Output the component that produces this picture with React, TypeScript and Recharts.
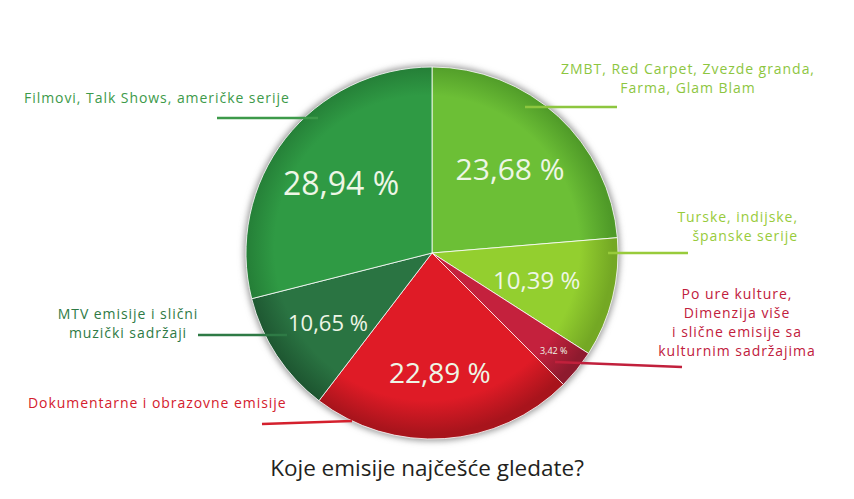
import React from 'react';
import { PieChart, Pie, Cell } from 'recharts';

// Slices clockwise from 12 o'clock
const categories = [
  ['ZMBT, Red Carpet, Zvezde granda,', 'Farma, Glam Blam'],
  ['Turske, indijske,', 'španske serije'],
  ['Po ure kulture,', 'Dimenzija više', 'i slične emisije sa', 'kulturnim sadržajima'],
  ['Dokumentarne i obrazovne emisije'],
  ['MTV emisije i slični', 'muzički sadržaji'],
  ['Filmovi, Talk Shows, američke serije'],
];
const shares = [23.68, 10.39, 3.42, 22.89, 10.65, 28.94];
const shareLabels = ['23,68 %', '10,39 %', '3,42 %', '22,89 %', '10,65 %', '28,94 %'];
const title = 'Koje emisije najčešće gledate?';

const sliceColors = ['#6cbf36', '#93cf2f', '#c4213d', '#df1b26', '#2a7442', '#2f9a44'];
const edgeColors = ['#4f9a28', '#74a824', '#8e1a2e', '#a8141c', '#1d5530', '#237a35'];
const textColors = ['#8dc63f', '#98cb3b', '#c1203c', '#d4202d', '#2e7a45', '#3d9a4a'];

const W = 854;
const H = 499;
const CX = 427;
const CY = 248;
const R = 186;
const FONT = '"Open Sans", "DejaVu Sans", sans-serif';

// label placement relative to the pie centre
const pctLayout = [
  { r: 0.62, size: 30 },
  { r: 0.58, size: 24 },
  { r: 0.84, size: 9 },
  { r: 0.64, size: 28 },
  { r: 0.67, size: 22 },
  { r: 0.62, size: 32 },
];
const outerLayout = [
  { tx: 256, ty: -179, anchor: 'middle', lh: 19, x1: 93, y1: -146, x2: 185, y2: -146 },
  { tx: 366, ty: -31, anchor: 'end', lh: 19, x1: 176, y1: 0, x2: 256, y2: 0 },
  { tx: 305, ty: 46, anchor: 'middle', lh: 19, x1: 123, y1: 109, x2: 250, y2: 114 },
  { tx: -404, ty: 155, anchor: 'start', lh: 19, x1: -170, y1: 171, x2: -80, y2: 168 },
  { tx: -304, ty: 66, anchor: 'middle', lh: 19, x1: -234, y1: 82, x2: -145, y2: 82 },
  { tx: -408, ty: -150, anchor: 'start', lh: 19, x1: -215, y1: -135, x2: -114, y2: -135 },
];

const data = shares.map((value, i) => ({ name: categories[i].join(' '), value }));
const shadowData = [{ name: 'shadow', value: 1 }];

const RADIAN = Math.PI / 180;

const renderLabel = (props: any) => {
  const { cx, cy, midAngle, outerRadius, index } = props;
  const p = pctLayout[index];
  const o = outerLayout[index];
  const r = outerRadius * p.r;
  const x = cx + r * Math.cos(-midAngle * RADIAN);
  const y = cy + r * Math.sin(-midAngle * RADIAN);
  return (
    <g>
      <line
        x1={cx + o.x1}
        y1={cy + o.y1}
        x2={cx + o.x2}
        y2={cy + o.y2}
        stroke={textColors[index]}
        strokeWidth={2.5}
      />
      <text
        x={x}
        y={y}
        fill="#eef6e6"
        fontSize={p.size}
        fontFamily={FONT}
        textAnchor="middle"
        dominantBaseline="central"
      >
        {shareLabels[index]}
      </text>
      <text
        x={cx + o.tx}
        y={cy + o.ty}
        fill={textColors[index]}
        fontSize={14}
        letterSpacing={0.95}
        fontFamily={FONT}
        textAnchor={o.anchor as any}
      >
        {categories[index].map((line, j) => (
          <tspan key={j} x={cx + o.tx} dy={j === 0 ? 0 : o.lh}>
            {line}
          </tspan>
        ))}
      </text>
    </g>
  );
};

export default function App() {
  return (
    <div style={{ position: 'absolute', left: 0, top: 0, width: W, height: H, background: '#fff' }}>
      <PieChart width={W} height={H}>
        <defs>
          <filter id="pieShadow" x="-20%" y="-20%" width="140%" height="140%">
            <feGaussianBlur stdDeviation="3" />
          </filter>
          {sliceColors.map((c, i) => (
            <radialGradient
              key={i}
              id={`slice${i}`}
              gradientUnits="userSpaceOnUse"
              cx={CX}
              cy={CY}
              r={R}
            >
              <stop offset="0%" stopColor={c} />
              <stop offset="82%" stopColor={c} />
              <stop offset="100%" stopColor={edgeColors[i]} />
            </radialGradient>
          ))}
        </defs>
        <Pie
          data={shadowData}
          dataKey="value"
          cx={CX}
          cy={CY}
          outerRadius={R + 2}
          fill="#9a9a9a"
          stroke="none"
          style={{ filter: 'url(#pieShadow)' }}
          isAnimationActive={false}
        />
        <Pie
          data={data}
          dataKey="value"
          cx={CX}
          cy={CY}
          outerRadius={R}
          startAngle={90}
          endAngle={-270}
          stroke="#ffffff"
          strokeWidth={0.8}
          label={renderLabel}
          labelLine={false}
          isAnimationActive={false}
        >
          {data.map((d, i) => (
            <Cell key={d.name} fill={`url(#slice${i})`} />
          ))}
        </Pie>
      </PieChart>
      <div
        style={{
          position: 'absolute',
          left: 0,
          top: 452,
          width: W,
          textAlign: 'center',
          fontFamily: FONT,
          fontSize: 22.5,
          color: '#231f20',
        }}
      >
        {title}
      </div>
    </div>
  );
}
